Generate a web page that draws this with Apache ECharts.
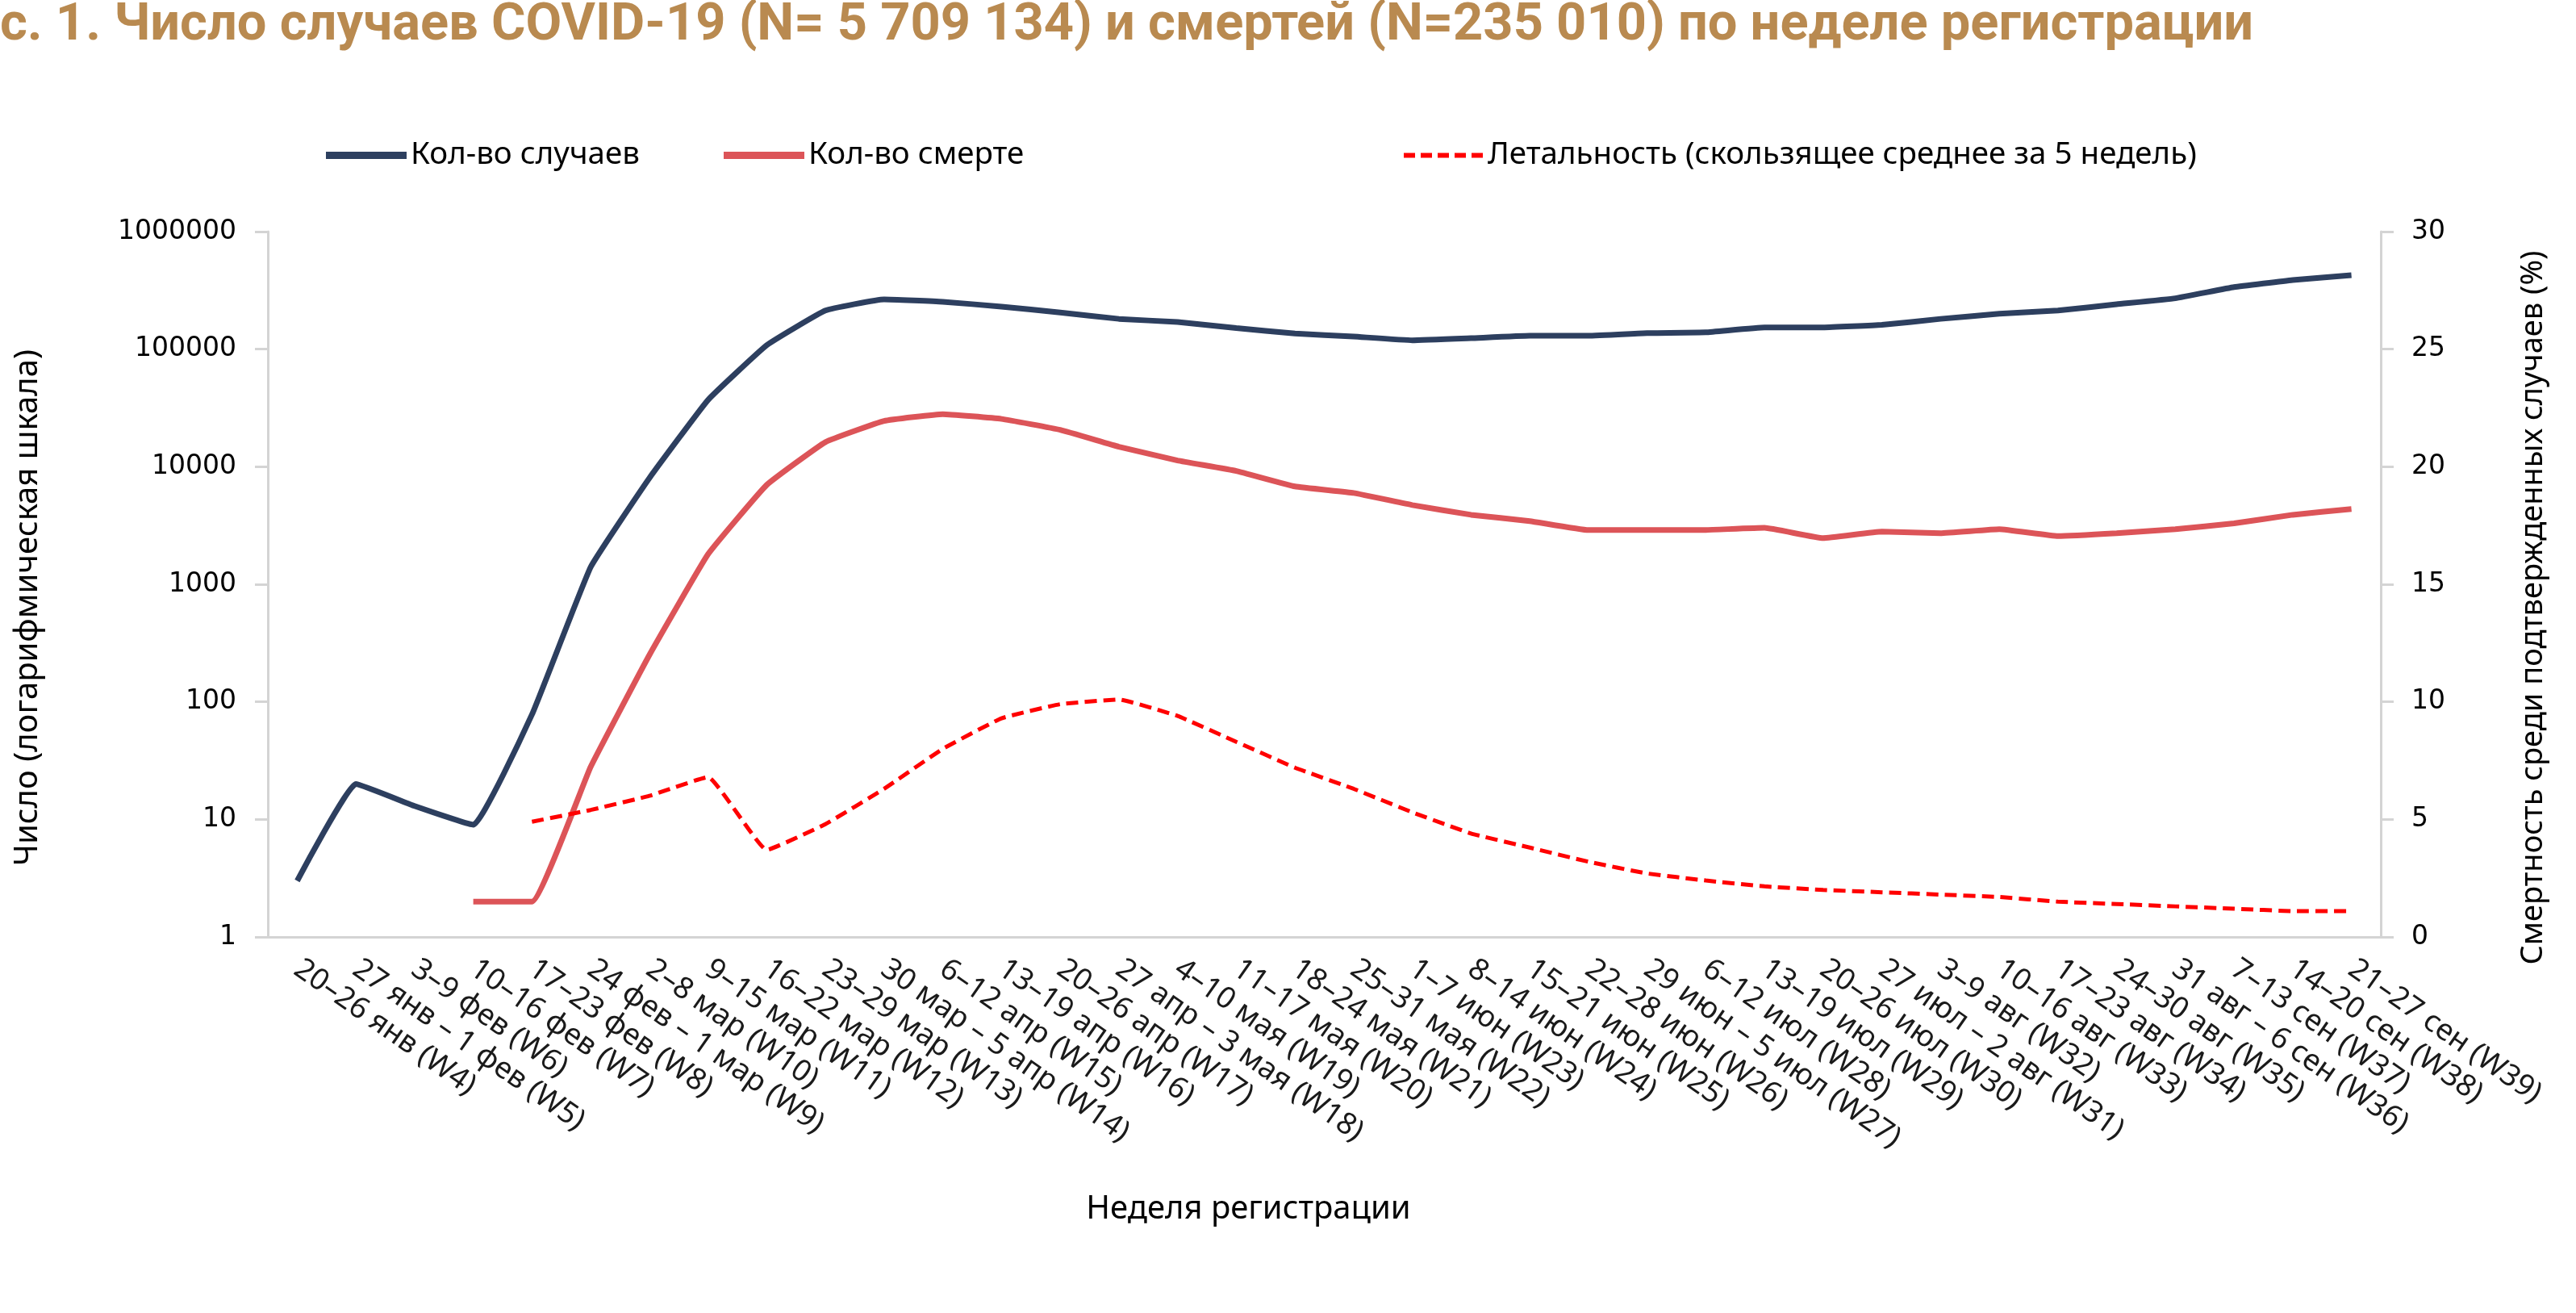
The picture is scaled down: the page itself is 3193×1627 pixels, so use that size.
<!DOCTYPE html>
<html>
<head>
<meta charset="utf-8">
<script src="https://cdn.jsdelivr.net/npm/echarts@6/dist/echarts.min.js"></script>
<style>
  html, body { margin: 0; padding: 0; background: #fff; }
  #chart { width: 3193px; height: 1627px; }
</style>
</head>
<body>
<div id="chart"></div>
<script>
// недели регистрации
const weeks = [
  '20–26 янв (W4)', '27 янв – 1 фев (W5)', '3–9 фев (W6)', '10–16 фев (W7)',
  '17–23 фев (W8)', '24 фев – 1 мар (W9)', '2–8 мар (W10)', '9–15 мар (W11)',
  '16–22 мар (W12)', '23–29 мар (W13)', '30 мар – 5 апр (W14)', '6–12 апр (W15)',
  '13–19 апр (W16)', '20–26 апр (W17)', '27 апр – 3 мая (W18)', '4–10 мая (W19)',
  '11–17 мая (W20)', '18–24 мая (W21)', '25–31 мая (W22)', '1–7 июн (W23)',
  '8–14 июн (W24)', '15–21 июн (W25)', '22–28 июн (W26)', '29 июн – 5 июл (W27)',
  '6–12 июл (W28)', '13–19 июл (W29)', '20–26 июл (W30)', '27 июл – 2 авг (W31)',
  '3–9 авг (W32)', '10–16 авг (W33)', '17–23 авг (W34)', '24–30 авг (W35)',
  '31 авг – 6 сен (W36)', '7–13 сен (W37)', '14–20 сен (W38)', '21–27 сен (W39)'
]

const cases = [
  3, 20, 13, 9, 78, 1400, 8000, 37000, 108000, 213000, 265000, 253000,
  230000, 205000, 181000, 170000, 151000, 136000, 128000, 119000, 124000, 130000,
  130000, 137000, 139000, 153000, 153000, 161000, 181000, 200000, 213000, 241000,
  271000, 337000, 388000, 426000
]

const deaths = [
  null, null, null, 2, 2, 28, 250, 1800, 7000, 16200, 24500, 28000,
  25500, 20600, 14800, 11300, 9200, 6800, 5980, 4720, 3900, 3450,
  2890, 2890, 2900, 3020, 2470, 2800, 2720, 2940, 2570, 2720,
  2940, 3300, 3900, 4370
]

// летальность, %
const lethality = [
  null, null, null, null, 4.9, 5.4, 6.0, 6.8, 3.7, 4.8, 6.3, 8.0,
  9.3, 9.9, 10.1, 9.4, 8.3, 7.2, 6.3, 5.3, 4.4, 3.8,
  3.2, 2.7, 2.4, 2.15, 2.0, 1.9, 1.8, 1.7, 1.5, 1.4,
  1.3, 1.2, 1.1, 1.1
]

const rightTicks = { min: 0, max: 30, step: 5 }

const axisGray = '#d4d4d4'
const sans = '"Noto Sans", "Open Sans", sans-serif'
const tickFont = '"DejaVu Sans", Verdana, sans-serif'

// значок штриховой линии для легенды
const dashIcon = 'path://M0,0h14v6h-14z M21,0h14v6h-14z M42,0h14v6h-14z M63,0h14v6h-14z M84,0h14v6h-14z'

const chart = echarts.init(document.getElementById('chart'))

const legendText = {
  fontFamily: sans,
  fontSize: 38.5,
  color: '#000'
}

const option = {
  animation: false,
  backgroundColor: '#fff',
  title: {
    text: 'с. 1. Число случаев COVID-19 (N= 5 709 134) и смертей (N=235 010) по неделе регистрации',
    left: 0,
    top: 0,
    padding: 0,
    textStyle: {
      fontFamily: 'Roboto, "Noto Sans", sans-serif',
      fontWeight: 'bold',
      fontSize: 65,
      color: '#b98a50'
    }
  },
  legend: [
    {
      data: [{ name: 'Кол-во случаев', icon: 'rect' }],
      left: 399, top: 168,
      itemWidth: 100, itemHeight: 9,
      textStyle: legendText
    },
    {
      // в оригинале подпись обрезана
      data: [{ name: 'Кол-во смертей', icon: 'rect' }],
      left: 892, top: 168,
      itemWidth: 100, itemHeight: 9,
      formatter: () => 'Кол-во смерте',
      textStyle: legendText
    },
    {
      data: [{ name: 'Летальность (скользящее среднее за 5 недель)', icon: dashIcon }],
      left: 1735, top: 168,
      itemWidth: 100, itemHeight: 6,
      textStyle: legendText
    }
  ],
  grid: {
    left: 332,
    right: 242,
    top: 287,
    bottom: 466,
    containLabel: false
  },
  xAxis: {
    type: 'category',
    data: weeks,
    boundaryGap: true,
    name: 'Неделя регистрации',
    nameLocation: 'middle',
    nameGap: 318,
    nameTextStyle: {
      fontFamily: sans,
      fontSize: 40,
      color: '#000',
      padding: [0, 188, 0, 0]
    },
    axisLine: { lineStyle: { color: axisGray, width: 3 } },
    axisTick: { interval: 0, length: 16, lineStyle: { color: axisGray, width: 3 } },
    axisLabel: {
      interval: 0,
      rotate: -35,
      margin: 36,
      fontFamily: sans,
      fontSize: 37,
      color: '#1a1a1a'
    },
    splitLine: { show: false }
  },
  yAxis: [
    {
      type: 'log',
      logBase: 10,
      min: 1,
      max: 1000000,
      name: 'Число (логарифмическая шкала)',
      nameLocation: 'middle',
      nameRotate: 90,
      nameGap: 277,
      nameTextStyle: {
        fontFamily: sans,
        fontSize: 40,
        color: '#000',
        padding: [0, 58, 0, 0]
      },
      axisLine: { show: true, lineStyle: { color: axisGray, width: 3 } },
      axisTick: { show: true, length: 16, lineStyle: { color: axisGray, width: 3 } },
      axisLabel: {
        margin: 39,
        fontFamily: tickFont,
        fontSize: 33,
        color: '#000',
        formatter: v => String(Math.round(v))
      },
      splitLine: { show: false }
    },
    {
      type: 'value',
      min: rightTicks.min,
      max: rightTicks.max,
      interval: rightTicks.step,
      position: 'right',
      name: 'Смертность среди подтвержденных случаев (%)',
      nameLocation: 'middle',
      nameRotate: 90,
      nameGap: 170,
      nameTextStyle: {
        fontFamily: sans,
        fontSize: 38,
        color: '#000',
        padding: [0, 58, 0, 0]
      },
      axisLine: { show: true, lineStyle: { color: axisGray, width: 3 } },
      axisTick: { show: true, length: 16, lineStyle: { color: axisGray, width: 3 } },
      axisLabel: {
        margin: 38,
        fontFamily: tickFont,
        fontSize: 33,
        color: '#000',
        align: 'left'
      },
      splitLine: { show: false }
    }
  ],
  series: [
    {
      name: 'Кол-во случаев',
      type: 'line',
      yAxisIndex: 0,
      data: cases,
      symbol: 'none',
      smooth: 0.1,
      lineStyle: { color: '#2d3f5f', width: 7 },
      itemStyle: { color: '#2d3f5f' }
    },
    {
      name: 'Кол-во смертей',
      type: 'line',
      yAxisIndex: 0,
      data: deaths,
      symbol: 'none',
      smooth: 0.1,
      lineStyle: { color: '#dc5458', width: 7 },
      itemStyle: { color: '#dc5458' }
    },
    {
      name: 'Летальность (скользящее среднее за 5 недель)',
      type: 'line',
      yAxisIndex: 1,
      data: lethality,
      symbol: 'none',
      smooth: 0.1,
      lineStyle: { color: '#ff0000', width: 5, type: [15, 8] },
      itemStyle: { color: '#ff0000' }
    }
  ]
}

chart.setOption(option)

window.addEventListener('resize', () => {
  chart.resize()
})
</script>
</body>
</html>
